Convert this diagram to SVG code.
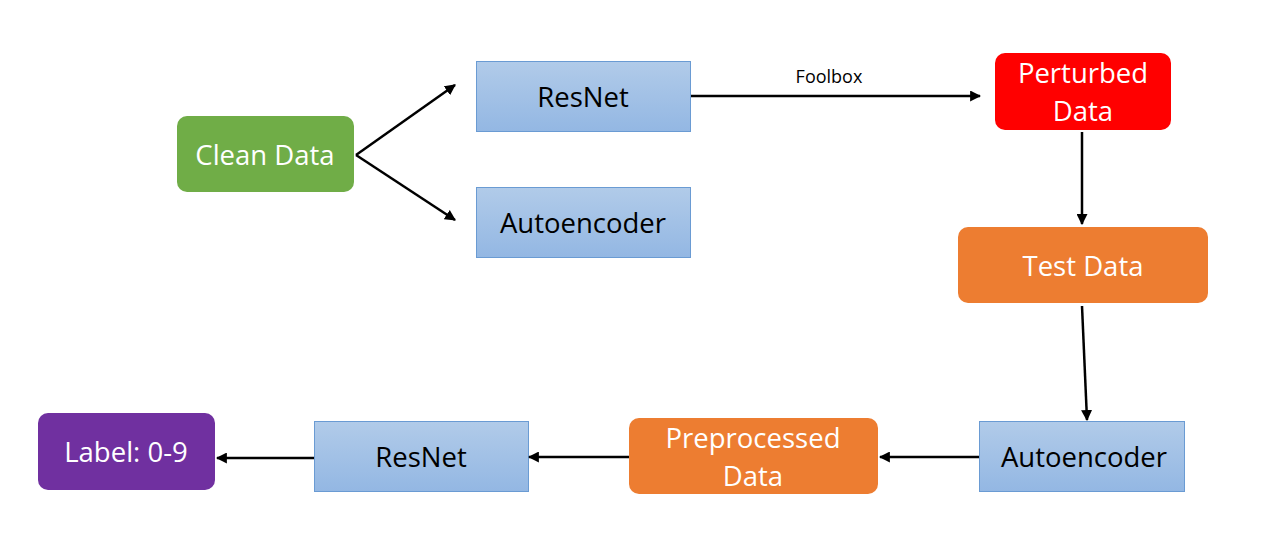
<svg xmlns="http://www.w3.org/2000/svg" width="1284" height="556" viewBox="0 0 1284 556">
<defs>
<linearGradient id="blue" x1="0" y1="0" x2="0" y2="1">
<stop offset="0" stop-color="#B1CBE9"/>
<stop offset="1" stop-color="#93B7E3"/>
</linearGradient>
<marker id="arr" viewBox="0 0 10 10" refX="9" refY="5" markerWidth="4.4" markerHeight="4.4" orient="auto" markerUnits="strokeWidth">
<path d="M0,0 L10,5 L0,10 z" fill="#000"/>
</marker>
<style>
.blue{fill:url(#blue);stroke:#6A9BD3;stroke-width:1}
.t{font-family:"Open Sans","Noto Sans",sans-serif;font-size:27.5px;text-anchor:middle;dominant-baseline:central}
.w{fill:#fff}
.k{fill:#000}
.c{stroke:#000;stroke-width:2.5;fill:none;marker-end:url(#arr)}
</style>
</defs>
<rect width="1284" height="556" fill="#fff"/>
<g id="clean"><rect x="177" y="116" width="177" height="76" rx="10" fill="#70AD47"/><text class="t w" x="265" y="154">Clean Data</text></g>
<g id="resnet1"><rect class="blue" x="476.5" y="61.5" width="214" height="70"/><text class="t k" x="583" y="96">ResNet</text></g>
<g id="auto1"><rect class="blue" x="476.5" y="187.5" width="214" height="70"/><text class="t k" x="583" y="222">Autoencoder</text></g>
<g id="perturbed"><rect x="995" y="53" width="176" height="77" rx="10" fill="#FF0000"/><text class="t w" x="1083" y="72">Perturbed</text><text class="t w" x="1083" y="110">Data</text></g>
<g id="test"><rect x="958" y="227" width="250" height="76" rx="10" fill="#ED7D31"/><text class="t w" x="1083" y="265">Test Data</text></g>
<g id="auto2"><rect class="blue" x="979.5" y="421.5" width="205" height="70"/><text class="t k" x="1084" y="456">Autoencoder</text></g>
<g id="pre"><rect x="629" y="418" width="249" height="76" rx="10" fill="#ED7D31"/><text class="t w" x="753" y="437">Preprocessed</text><text class="t w" x="753" y="475">Data</text></g>
<g id="resnet2"><rect class="blue" x="314.5" y="421.5" width="214" height="70"/><text class="t k" x="421" y="456">ResNet</text></g>
<g id="label"><rect x="38" y="413" width="177" height="77" rx="10" fill="#7030A0"/><text class="t w" x="126" y="451">Label: 0-9</text></g>
<g id="connectors">
<line class="c" x1="356" y1="155" x2="455" y2="85"/>
<line class="c" x1="356" y1="155" x2="455" y2="220"/>
<line class="c" x1="691" y1="96" x2="980" y2="96"/>
<text x="829" y="76" style="font-family:'Open Sans','Noto Sans',sans-serif;font-size:18px;text-anchor:middle;dominant-baseline:central" fill="#000">Foolbox</text>
<line class="c" x1="1082" y1="132" x2="1082" y2="224"/>
<line class="c" x1="1082" y1="306" x2="1087" y2="420"/>
<line class="c" x1="979" y1="457" x2="880" y2="457"/>
<line class="c" x1="629" y1="457" x2="529" y2="457"/>
<line class="c" x1="314" y1="458" x2="217" y2="458"/>
</g>
</svg>
